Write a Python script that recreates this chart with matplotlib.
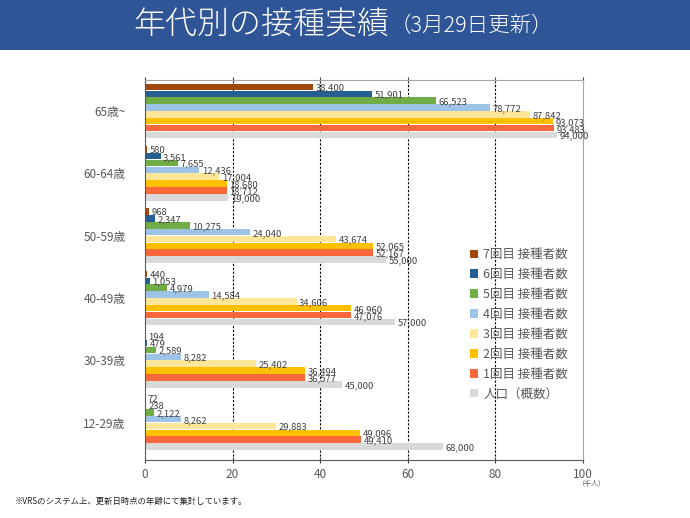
import numpy as np
import matplotlib.pyplot as plt
from matplotlib.patches import Rectangle

plt.rcParams['font.family'] = ['Noto Sans CJK JP', 'DejaVu Sans']

# Données (personnes)
groupes = ["65歳~", "60-64歳", "50-59歳", "40-49歳", "30-39歳", "12-29歳"]
series = ["7回目 接種者数", "6回目 接種者数", "5回目 接種者数", "4回目 接種者数",
          "3回目 接種者数", "2回目 接種者数", "1回目 接種者数", "人口（概数）"]
dose7 = [38400, 580, 968, 440, 194, 72]
dose6 = [51901, 3561, 2347, 1053, 479, 238]
dose5 = [66523, 7655, 10275, 4979, 2589, 2122]
dose4 = [78772, 12436, 24040, 14584, 8282, 8262]
dose3 = [87842, 17004, 43674, 34606, 25402, 29883]
dose2 = [93073, 18680, 52065, 46960, 36494, 49096]
dose1 = [93483, 18712, 52167, 47076, 36577, 49410]
population = [94000, 19000, 55000, 57000, 45000, 68000]
valeurs = [dose7, dose6, dose5, dose4, dose3, dose2, dose1, population]
couleurs = ["#9E480E", "#255E91", "#70AD47", "#9DC3E6",
            "#FFE699", "#FFC000", "#F9683A", "#D9D9D9"]
xticks = [0, 20, 40, 60, 80, 100]

fig = plt.figure(figsize=(6.9, 5.18), dpi=100)

# Bandeau du titre
fig.patches.append(Rectangle((0, 0.903), 1, 0.097, transform=fig.transFigure,
                             facecolor="#2F5597", edgecolor="none", zorder=0))
fig.text(0.564, 0.952, "年代別の接種実績", color="white", fontsize=23,
         fontweight="light", ha="right", va="center")
fig.text(0.565, 0.950, "（3月29日更新）", color="white", fontsize=15.5,
         fontweight="light", ha="left", va="center")

ax = fig.add_axes([0.210, 0.112, 0.635, 0.734])

h = 0.11
y = np.arange(len(groupes))
for j, (vals, c, nom) in enumerate(zip(valeurs, couleurs, series)):
    pos = y + (j - 3.5) * h
    v = np.array(vals) / 1000
    ax.barh(pos, v, height=h * 0.95, color=c, label=nom, zorder=2)
    for p, val, raw in zip(pos, v, vals):
        ax.text(val + 0.6, p + 0.02, f"{raw:,}", fontsize=6.8, color="#404040",
                va="center", ha="left", zorder=3)

ax.set_xlim(0, 100)
ax.set_ylim(5.6, -0.5)
ax.set_yticks(y)
ax.set_yticklabels(groupes, fontsize=8.5, color="#595959")
ax.tick_params(axis="y", length=0, pad=14)
ax.set_xticks(xticks)
ax.set_xticklabels([str(t) for t in xticks], fontsize=8.5, color="#595959")
ax.tick_params(axis="x", direction="inout", length=5, color="#404040",
               pad=3, top=True)
for x in xticks[1:-1]:
    ax.axvline(x, color="black", linestyle=(0, (2, 1.5)), linewidth=0.8, zorder=1)
for s in ["top", "right"]:
    ax.spines[s].set_color("#A6A6A6")
for s in ["left", "bottom"]:
    ax.spines[s].set_color("#595959")

leg = ax.legend(loc="upper left", bbox_to_anchor=(0.73, 0.57), frameon=False,
                fontsize=9, handlelength=0.7, handleheight=0.7, handletextpad=0.4,
                labelspacing=0.55, borderaxespad=0)
for t in leg.get_texts():
    t.set_color("#595959")

fig.text(0.836, 0.062, "（千人）", fontsize=5, color="#595959", ha="left")
fig.text(0.022, 0.027, "※VRSのシステム上、更新日時点の年齢にて集計しています。",
         fontsize=6, color="#222222", ha="left")

fig.savefig("out.png", dpi=100)
